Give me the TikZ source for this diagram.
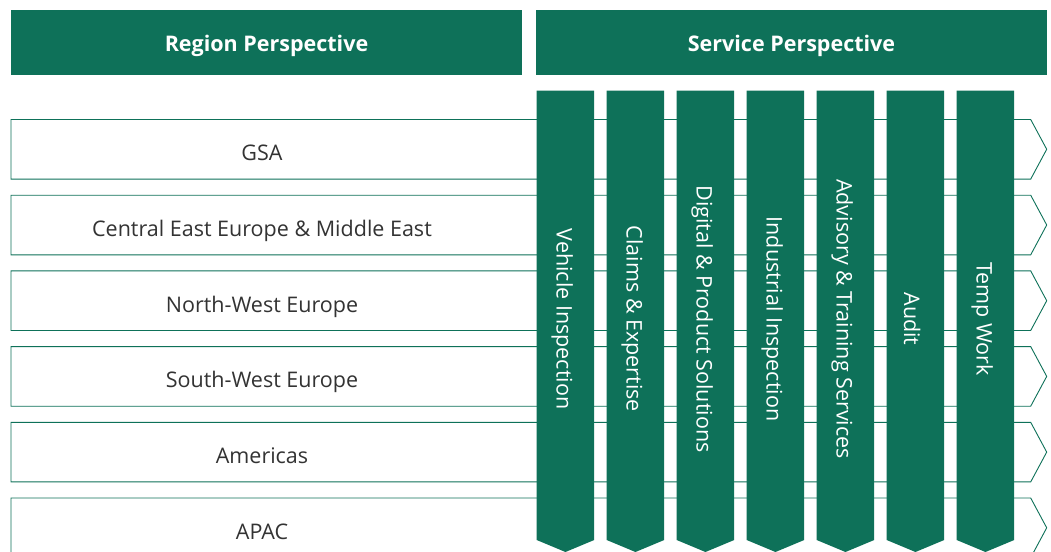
\documentclass[tikz,border=0pt]{standalone}
\usepackage{fontspec}
\setmainfont{Open Sans}
\definecolor{tuvgreen}{HTML}{0E7159}
\definecolor{rowtext}{HTML}{333333}

\begin{document}
\begin{tikzpicture}[x=1pt,y=-1pt]
	\tikzset{header/.style={fill=tuvgreen,text=white,font=\bfseries\fontsize{21.5}{25}\selectfont,inner sep=0pt,minimum width=511pt,minimum height=65pt,text height=19pt,text depth=0pt}}
	\tikzset{rowline/.style={draw=tuvgreen,line width=0.9pt,fill=white}}
	\tikzset{row label/.style={text=rowtext,font=\fontsize{21.5}{25}\selectfont,anchor=base,inner sep=0pt}}
	\tikzset{column label/.style={text=white,font=\fontsize{21.5}{25}\selectfont,rotate=-90,inner sep=0pt}}
	\useasboundingbox (0,0) rectangle (1051,551);
	% headers
	\node[header] (region) at (266.5,42.5) {Region Perspective};
	\node[header] (service) at (791.5,42.5) {Service Perspective};
	% regions
	\foreach \name/\label [count=\i from 0] in {gsa/GSA, cee/Central East Europe \& Middle East, nwe/North-West Europe, swe/South-West Europe, americas/Americas, apac/APAC}{
		\pgfmathsetmacro\rowy{119.5+75.7*\i}
		\draw[rowline] (11,\rowy) -- (1030.7,\rowy) -- (1046.7,\rowy+29.8) -- (1030.7,\rowy+59.6) -- (11,\rowy+59.6) -- cycle;
		\node[row label] (\name) at (262,\rowy+41.2) {\label};
	}
	% services
	\foreach \name/\label [count=\i from 0] in {vehicle/Vehicle Inspection, claims/Claims \& Expertise, digital/Digital \& Product Solutions, industrial/Industrial Inspection, advisory/Advisory \& Training Services, audit/Audit, temp/Temp Work}{
		\pgfmathsetmacro\colx{536.7+70*\i}
		\fill[tuvgreen] (\colx,90.7) -- (\colx+57.5,90.7) -- (\colx+57.5,540) -- (\colx+28.75,552) -- (\colx,540) -- cycle;
		\node[column label] (\name) at (\colx+25.5,319) {\label};
	}
\end{tikzpicture}
\end{document}
